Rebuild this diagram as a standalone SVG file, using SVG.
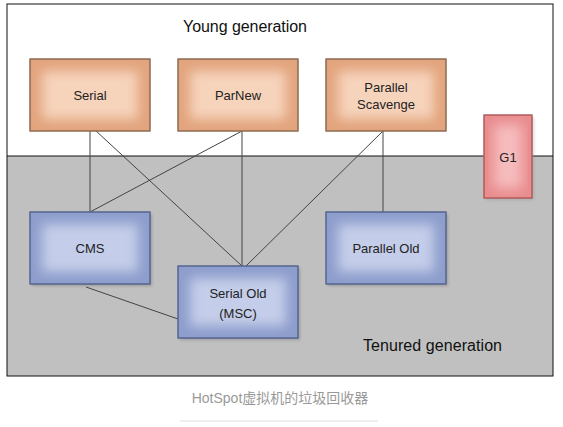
<svg xmlns="http://www.w3.org/2000/svg" width="563" height="427" viewBox="0 0 563 427">
<style>
.lbl{font-family:"Liberation Sans","DejaVu Sans",sans-serif;font-size:13px;fill:#222;text-anchor:middle}
.big{font-family:"Liberation Sans","DejaVu Sans",sans-serif;font-size:16px;fill:#111}
.cap{font-family:"Liberation Sans","Noto Sans CJK SC",sans-serif;font-size:14px;fill:#999;text-anchor:middle}
.conn line{stroke:#444;stroke-width:1}
.or{fill:#e2a47d;stroke:#8c6a52;stroke-width:1}
.orI{fill:#f6d3bb}
.bl{fill:#8d9dcc;stroke:#56648f;stroke-width:1}
.blI{fill:#c4cde9}
.pk{fill:#e98d8f;stroke:#b05a5c;stroke-width:1}
.pkI{fill:#f6bcbd}
</style>
<defs>
<filter id="glow" x="-20%" y="-20%" width="140%" height="140%"><feGaussianBlur stdDeviation="6"/></filter>
<filter id="sh" x="-10%" y="-10%" width="130%" height="130%"><feGaussianBlur stdDeviation="1.5"/></filter>
<clipPath id="cSerial"><rect x="30" y="59" width="120" height="72"/></clipPath>
<clipPath id="cParNew"><rect x="178" y="59" width="120" height="72"/></clipPath>
<clipPath id="cPS"><rect x="326" y="59" width="120" height="72"/></clipPath>
<clipPath id="cG1"><rect x="484" y="115" width="48" height="83"/></clipPath>
<clipPath id="cCMS"><rect x="30" y="212" width="120" height="72"/></clipPath>
<clipPath id="cSO"><rect x="178" y="266" width="120" height="72"/></clipPath>
<clipPath id="cPO"><rect x="326" y="212" width="120" height="72"/></clipPath>
</defs>
<rect width="563" height="427" fill="#fff"/>
<g id="frame">
<rect x="7" y="156" width="546" height="220" fill="#c0c0c0"/>
<rect x="7" y="4" width="546" height="372" fill="none" stroke="#111" stroke-width="1"/>
<line x1="7" y1="156" x2="553" y2="156" stroke="#111"/>
<text class="big" x="183" y="32" textLength="124">Young generation</text>
<text class="big" x="363" y="351" textLength="139">Tenured generation</text>
</g>
<g class="conn" id="connectors">
<line x1="90" y1="131" x2="90" y2="212"/>
<line x1="95" y1="130" x2="242" y2="266"/>
<line x1="242" y1="131" x2="242" y2="266"/>
<line x1="242" y1="131" x2="90" y2="212"/>
<line x1="383" y1="131" x2="246" y2="266"/>
<line x1="383" y1="131" x2="383" y2="212"/>
<line x1="86" y1="287" x2="178" y2="319"/>
</g>
<g id="serial">
<rect class="or" x="30" y="59" width="120" height="72"/>
<rect class="orI" x="42" y="71" width="96" height="48" clip-path="url(#cSerial)" filter="url(#glow)"/>
<rect x="30" y="59" width="120" height="72" fill="none" stroke="#8c6a52"/>
<text class="lbl" x="90" y="100">Serial</text>
</g>
<g id="parnew">
<rect class="or" x="178" y="59" width="120" height="72"/>
<rect class="orI" x="190" y="71" width="96" height="48" clip-path="url(#cParNew)" filter="url(#glow)"/>
<rect x="178" y="59" width="120" height="72" fill="none" stroke="#8c6a52"/>
<text class="lbl" x="238" y="100">ParNew</text>
</g>
<g id="parallel-scavenge">
<rect class="or" x="326" y="59" width="120" height="72"/>
<rect class="orI" x="338" y="71" width="96" height="48" clip-path="url(#cPS)" filter="url(#glow)"/>
<rect x="326" y="59" width="120" height="72" fill="none" stroke="#8c6a52"/>
<text class="lbl" x="386" y="92">Parallel</text>
<text class="lbl" x="386" y="109">Scavenge</text>
</g>
<g id="g1">
<rect x="486" y="117" width="48" height="83" fill="#888" opacity="0.35" filter="url(#sh)"/>
<rect class="pk" x="484" y="115" width="48" height="83"/>
<rect class="pkI" x="494" y="125" width="28" height="63" clip-path="url(#cG1)" filter="url(#glow)"/>
<rect x="484" y="115" width="48" height="83" fill="none" stroke="#b05a5c"/>
<text class="lbl" x="508" y="162">G1</text>
</g>
<g id="cms">
<rect x="32" y="214" width="120" height="72" fill="#666" opacity="0.4" filter="url(#sh)"/>
<rect class="bl" x="30" y="212" width="120" height="72"/>
<rect class="blI" x="42" y="224" width="96" height="48" clip-path="url(#cCMS)" filter="url(#glow)"/>
<rect x="30" y="212" width="120" height="72" fill="none" stroke="#56648f"/>
<text class="lbl" x="90" y="253">CMS</text>
</g>
<g id="serial-old">
<rect x="180" y="268" width="120" height="72" fill="#666" opacity="0.4" filter="url(#sh)"/>
<rect class="bl" x="178" y="266" width="120" height="72"/>
<rect class="blI" x="190" y="278" width="96" height="48" clip-path="url(#cSO)" filter="url(#glow)"/>
<rect x="178" y="266" width="120" height="72" fill="none" stroke="#56648f"/>
<text class="lbl" x="238" y="298">Serial Old</text>
<text class="lbl" x="238" y="318">(MSC)</text>
</g>
<g id="parallel-old">
<rect x="328" y="214" width="120" height="72" fill="#666" opacity="0.4" filter="url(#sh)"/>
<rect class="bl" x="326" y="212" width="120" height="72"/>
<rect class="blI" x="338" y="224" width="96" height="48" clip-path="url(#cPO)" filter="url(#glow)"/>
<rect x="326" y="212" width="120" height="72" fill="none" stroke="#56648f"/>
<text class="lbl" x="386" y="253">Parallel Old</text>
</g>
<g id="caption">
<text class="cap" x="280" y="403">HotSpot虚拟机的垃圾回收器</text>
<line x1="180" y1="421" x2="378" y2="421" stroke="#ddd"/>
</g>
</svg>
